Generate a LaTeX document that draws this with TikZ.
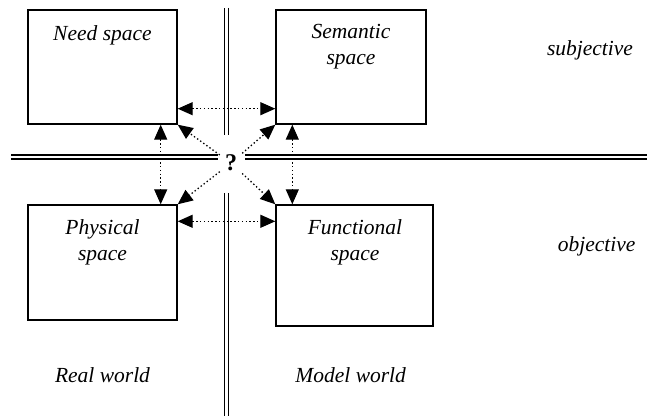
\documentclass[tikz,border=0pt]{standalone}
\usepackage{fontspec}
\setmainfont{Liberation Serif}
\usetikzlibrary{arrows.meta}
\begin{document}
\begin{tikzpicture}[x=1pt,y=-1pt,
  box/.style={draw, line width=1.4pt, inner sep=0pt},
  lbl/.style={font=\fontsize{21.5}{26}\selectfont\itshape, align=center, inner sep=0pt},
  wall/.style={double, line width=1.7pt, double distance=2.4pt},
  conn/.style={dash pattern=on 1.4pt off 2.4pt, line width=1.3pt, {Triangle[length=15pt,width=13pt]}-{Triangle[length=15pt,width=13pt]}},
  ray/.style={dash pattern=on 1.4pt off 2.4pt, line width=1.3pt, -{Triangle[length=15pt,width=13pt]}}]
\useasboundingbox (0,0) rectangle (647,419);

% walls
\draw[wall] (11,156.8) -- (218,156.8);
\draw[wall] (245,156.8) -- (647,156.8);
\draw[wall] (226.5,8) -- (226.5,135);
\draw[wall] (226.5,193) -- (226.5,416);

% boxes
\node[box, minimum width=149pt, minimum height=114pt] (need) at (102.5,67) {};
\node[box, minimum width=150pt, minimum height=114pt] (sem) at (351,67) {};
\node[box, minimum width=149pt, minimum height=115pt] (phys) at (102.5,262.5) {};
\node[box, minimum width=157pt, minimum height=121pt] (func) at (354.5,265.5) {};

% box labels
\node[lbl] (needT) at (102.5,35) {Need space};
\node[lbl] (semT) at (351,46.5) {Semantic\\space};
\node[lbl] (physT) at (102.5,242.5) {Physical\\space};
\node[lbl] (funcT) at (355,242.5) {Functional\\space};

% side labels
\node[lbl] (subj) at (590,50) {subjective};
\node[lbl] (obj) at (596.7,246.7) {objective};
\node[lbl] (real) at (102.5,375) {Real world};
\node[lbl] (model) at (350.7,375) {Model world};

% question mark
\node[font=\fontsize{24}{26}\selectfont\bfseries, inner sep=5pt] (q) at (231,163) {?};

% connectors
\draw[conn] ([yshift=16pt]need.south east) -- ([yshift=16pt]sem.south west);
\draw[conn] ([yshift=-17pt]phys.north east) -- ([yshift=-17pt]func.north west);
\draw[conn] ([xshift=-17pt]need.south east) -- ([xshift=-17pt]phys.north east);
\draw[conn] ([xshift=17pt]sem.south west) -- ([xshift=17pt]func.north west);

\draw[ray] (q) -- (need.south east);
\draw[ray] (q) -- (sem.south west);
\draw[ray] (q) -- (phys.north east);
\draw[ray] (q) -- (func.north west);
\end{tikzpicture}
\end{document}
